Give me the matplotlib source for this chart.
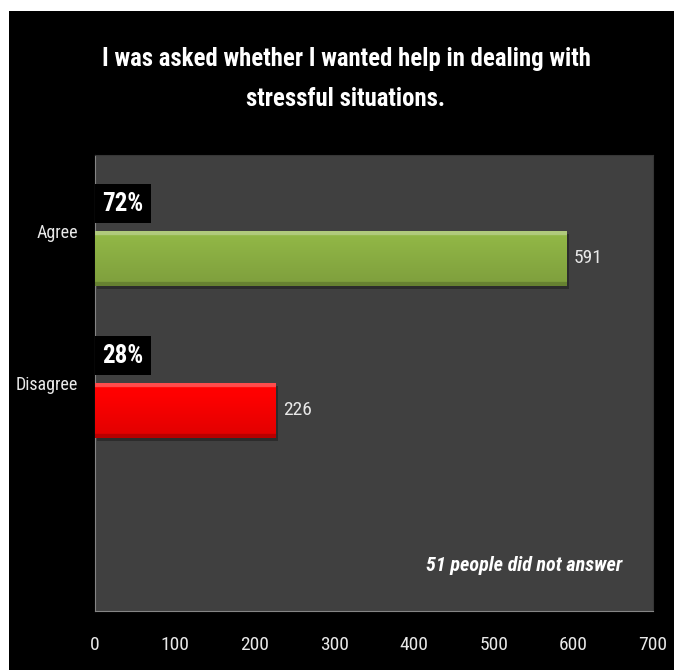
import numpy as np
import matplotlib.pyplot as plt
import matplotlib.colors as mc
from matplotlib import font_manager
from matplotlib.patches import Rectangle

categories = ['Agree', 'Disagree']
counts = [591, 226]
bar_colors = ['#8fb445', '#ff0000']
xticks = [0, 100, 200, 300, 400, 500, 600, 700]
title = 'I was asked whether I wanted help in dealing with\nstressful situations.'
note = '51 people did not answer'

# police etroite si dispo
installed = {f.name for f in font_manager.fontManager.ttflist}
narrow = [f for f in ['Liberation Sans Narrow', 'Roboto Condensed', 'Open Sans Condensed',
                      'Noto Sans Condensed', 'Roboto', 'Liberation Sans'] if f in installed]
plt.rcParams['font.family'] = narrow[:1] + ['DejaVu Sans']

fig = plt.figure(figsize=(6.74, 6.70), dpi=100, facecolor='white')
# fond noir
fig.add_artist(Rectangle((9 / 674, 0), 1, 1 - 11 / 670, transform=fig.transFigure,
                         facecolor='black', edgecolor='none', zorder=-10))

ax = fig.add_axes([95 / 674, 59 / 670, 558 / 674, 456 / 670])
ax.set_facecolor('#404040')

pos = np.arange(len(categories))
offset = 0.18  # decalage des barres sous le libelle de categorie
bars = ax.barh(pos + offset, counts, height=0.36, color=bar_colors, zorder=3)


def shade(patch, base):
    # degrade vertical pour l'effet biseau
    x0, y0 = patch.get_x(), patch.get_y()
    w, h = patch.get_width(), patch.get_height()
    c = np.array(mc.to_rgb(base))
    t = np.linspace(0, 1, 80)[:, None]
    body = c * (1.03 - 0.15 * t)
    light = c + (1 - c) * 0.3
    img = np.where(t < 0.07, light, body)
    img = np.where(t > 0.93, c * 0.72, img)
    img = np.clip(img, 0, 1)[:, None, :].repeat(2, axis=1)
    im = ax.imshow(img, extent=[x0, x0 + w, y0 + h, y0], aspect='auto', zorder=4,
                   interpolation='bilinear')
    im.set_clip_path(patch)
    # ombre
    ax.add_patch(Rectangle((x0 + 3, y0 + 0.02), w, h, facecolor='black', alpha=0.3,
                           edgecolor='none', zorder=2))


for b, c in zip(bars, bar_colors):
    shade(b, c)

total = sum(counts)
for p, n in zip(pos, counts):
    ax.text(n + 10, p + offset, str(n), color='#e8e8e8', fontsize=14, va='center', ha='left', zorder=5)
    ax.text(35, p + offset - 0.36, f'{round(100 * n / total)}%', color='white', fontsize=18,
            fontweight='bold', va='center', ha='center', zorder=5,
            bbox=dict(boxstyle='square,pad=0.3', fc='black', ec='none'))

ax.set_xlim(0, 700)
ax.set_ylim(2.5, -0.5)
ax.set_xticks(xticks)
ax.set_yticks(pos)
ax.set_yticklabels(categories)
ax.tick_params(length=0, colors='#e8e8e8', labelsize=14)
ax.tick_params(axis='x', pad=18)
ax.tick_params(axis='y', pad=12, labelsize=13)
for s in ['left', 'bottom']:
    ax.spines[s].set_color('#858585')
for s in ['top', 'right']:
    ax.spines[s].set_color('#363636')

ax.text(0.945, 0.10, note, transform=ax.transAxes, color='white', fontsize=14.5,
        fontweight='bold', fontstyle='italic', ha='right', va='center')

fig.text(346 / 674, 1 - 79 / 670, title, color='white', fontsize=17.8, fontweight='bold',
         ha='center', va='center', linespacing=1.8)

fig.savefig('out.png', dpi=100, facecolor=fig.get_facecolor())
